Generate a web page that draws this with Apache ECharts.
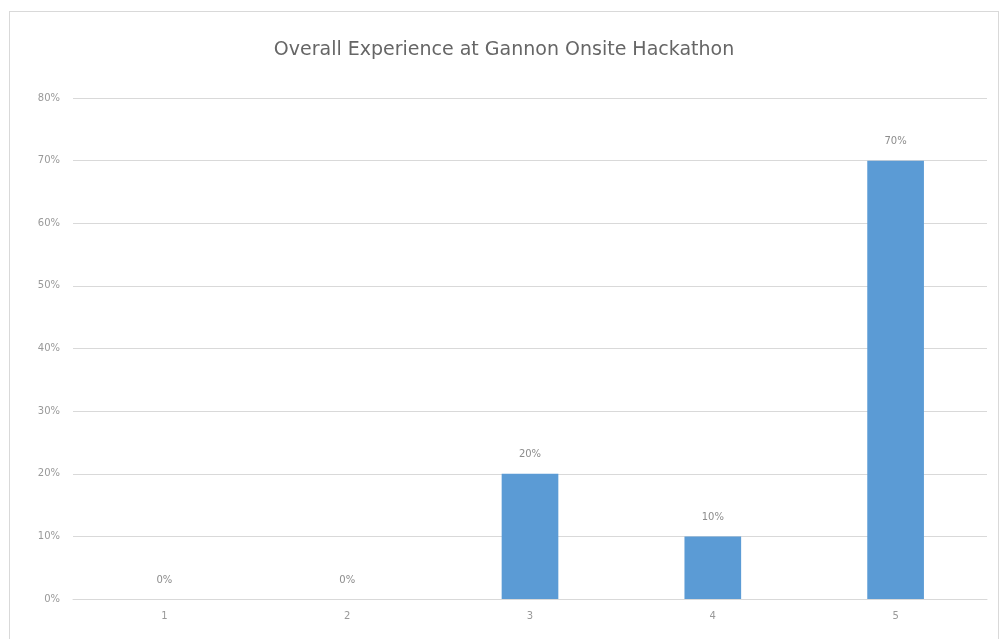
<!DOCTYPE html>
<html>
<head>
<meta charset="utf-8">
<script src="https://cdn.jsdelivr.net/npm/echarts@6/dist/echarts.min.js"></script>
<style>
  html, body { margin: 0; padding: 0; background: #fff; }
  #frame { position: absolute; left: 9px; top: 11px; width: 990px; height: 640px; border: 1px solid #d9d9d9; box-sizing: border-box; }
  #chart { position: absolute; left: 0; top: 0; width: 1008px; height: 639px; }
</style>
</head>
<body>
<div id="frame"></div>
<div id="chart"></div>
<script>
const categories = ['1', '2', '3', '4', '5'];
const shares = [0, 0, 20, 10, 70];
const chartTitle = 'Overall Experience at Gannon Onsite Hackathon';

const chart = echarts.init(document.getElementById('chart'));
const option = {
  animation: false,
  title: {
    text: chartTitle,
    left: 'center',
    top: 36,
    textStyle: { fontFamily: 'DejaVu Sans', fontSize: 19, fontWeight: 'normal', color: '#666666' }
  },
  grid: { left: 73, right: 21, top: 98, bottom: 40 },
  xAxis: {
    type: 'category',
    data: categories,
    axisLine: { lineStyle: { color: '#d9d9d9' } },
    axisTick: { show: false },
    axisLabel: { color: '#999999', fontSize: 10, margin: 12, fontFamily: 'DejaVu Sans' }
  },
  yAxis: {
    type: 'value',
    min: 0,
    max: 80,
    interval: 10,
    axisLine: { show: false },
    axisTick: { show: false },
    splitLine: { lineStyle: { color: '#d9d9d9' } },
    axisLabel: { color: '#999999', fontSize: 10, margin: 13, fontFamily: 'DejaVu Sans', formatter: '{value}%' }
  },
  series: [{
    type: 'bar',
    data: shares,
    barWidth: '31%',
    itemStyle: { color: '#5b9bd5' },
    label: {
      show: true,
      position: 'top',
      distance: 14,
      color: '#8c8c8c',
      fontSize: 10,
      fontFamily: 'DejaVu Sans',
      formatter: '{c}%'
    }
  }]
};
chart.setOption(option);
</script>
</body>
</html>
